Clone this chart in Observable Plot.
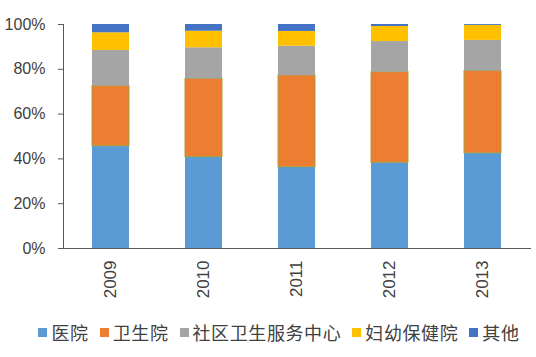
<!DOCTYPE html>
<html>
<head>
<meta charset="utf-8">
<script src="https://cdn.jsdelivr.net/npm/d3@7"></script>
<script src="https://cdn.jsdelivr.net/npm/@observablehq/plot@0.6"></script>
<style>
  body { margin: 0; background: #fff; width: 536px; height: 357px; overflow: hidden; }
  #legend { display: flex; justify-content: center; align-items: center; padding-left: 22px;
    margin-top: 12px; font-family: "Noto Sans CJK SC", sans-serif; font-size: 18px; color: #404040;
    line-height: 20px; letter-spacing: 0.6px; }
  .item { display: flex; align-items: center; margin-right: 11px; }
  .item:last-child { margin-right: 0; }
  .sw { width: 9px; height: 9px; margin-right: 4px; }
</style>
</head>
<body>
<div id="chart"></div>
<div id="legend"></div>
<script>
const years = ["2009", "2010", "2011", "2012", "2013"];
const seriesNames = ["医院", "卫生院", "社区卫生服务中心", "妇幼保健院", "其他"];
const colors = ["#5B9BD5", "#ED7D31", "#A5A5A5", "#FFC000", "#4472C4"];
const hospital   = [45.7, 40.8, 36.3, 38.3, 42.5];
const township   = [26.8, 34.9, 40.9, 40.4, 36.7];
const community  = [15.9, 13.9, 13.1, 13.7, 13.7];
const maternal   = [7.9, 7.4, 6.6, 6.7, 6.7];
const others     = [3.7, 3.0, 3.1, 0.9, 0.4];
const yTicks = [0, 20, 40, 60, 80, 100];

const seriesValues = [hospital, township, community, maternal, others];
const data = [];
years.forEach((y, i) => {
  seriesNames.forEach((s, j) => data.push({year: y, series: s, value: seriesValues[j][i]}));
});

const plot = Plot.plot({
  width: 536,
  height: 310,
  marginTop: 24,
  marginBottom: 62,
  marginLeft: 63,
  marginRight: 5,
  style: {fontFamily: "'Liberation Sans', Arial, sans-serif", color: "#404040", background: "#fff"},
  x: {domain: years, paddingInner: 0.6, paddingOuter: 0.3, label: null},
  y: {domain: [0, 100], label: null},
  color: {domain: seriesNames, range: colors},
  marks: [
    Plot.barY(data, Plot.stackY({
      x: "year", y: "value", fill: "series", order: null,
      stroke: d => d.series === "卫生院" ? "#A8A040" : "none", strokeWidth: 1
    })),
    Plot.axisY({ticks: yTicks, tickFormat: d => d + "%", tickSize: 5, tickPadding: 13,
      fontSize: 16, stroke: "#595959", fill: "#404040"}),
    Plot.axisX({tickRotate: -90, tickSize: 0, tickPadding: 12, fontSize: 17, fill: "#404040"}),
    Plot.frame({anchor: "left", stroke: "#595959"}),
    Plot.ruleY([0], {stroke: "#595959"})
  ]
});
document.getElementById("chart").appendChild(plot);

const legend = document.getElementById("legend");
seriesNames.forEach((s, i) => {
  const item = document.createElement("div");
  item.className = "item";
  const sw = document.createElement("div");
  sw.className = "sw";
  sw.style.background = colors[i];
  const t = document.createElement("span");
  t.textContent = s;
  item.appendChild(sw);
  item.appendChild(t);
  legend.appendChild(item);
});
</script>
</body>
</html>
